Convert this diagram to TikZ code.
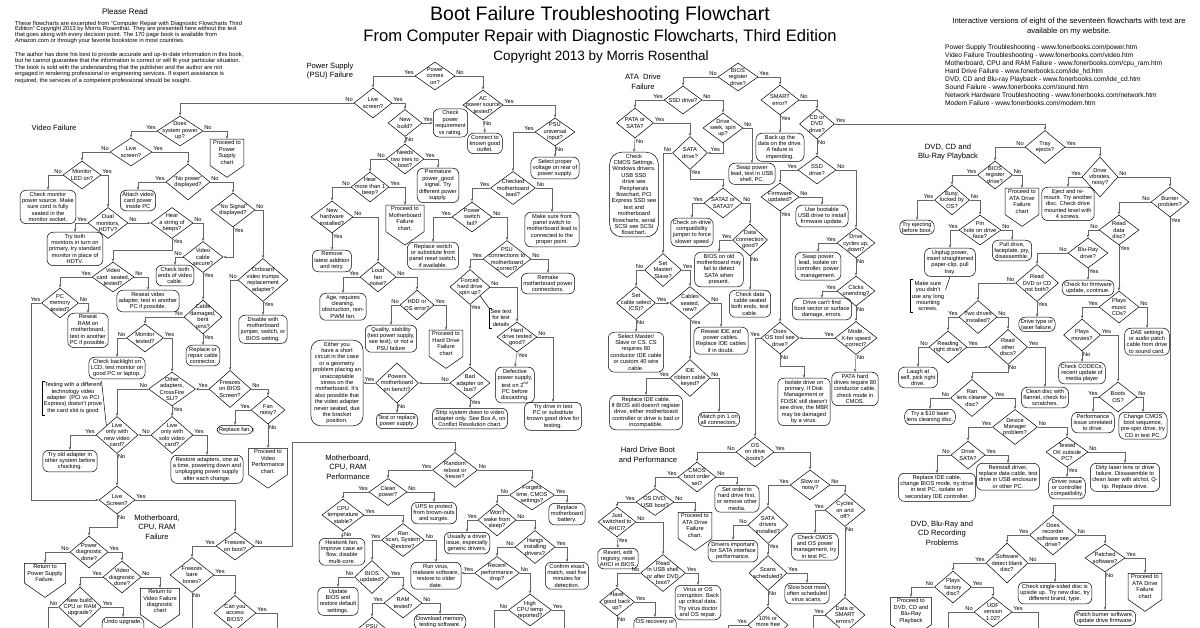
\documentclass[tikz,border=0pt]{standalone}
\usepackage{fontspec}
\setmainfont{Liberation Sans}
\usetikzlibrary{shapes.geometric,shapes.symbols,arrows.meta}

\begin{document}
\begin{tikzpicture}[x=1pt, y=-1pt,
        every node/.style={font=\fontsize{5.7}{6.4}\selectfont, align=center, inner sep=1.2pt},
        dtxt/.style={inner sep=0pt, font=\fontsize{5.7}{6.4}\selectfont, align=center},
        dec/.style={diamond, draw, line width=0.5pt, inner sep=0pt, minimum width=40pt, minimum height=31pt, label={[dtxt]center:{#1}}},
        res/.style={rectangle, rounded corners=6pt, draw, line width=0.5pt, inner xsep=2pt, inner ysep=1.8pt, anchor=north},
        offp/.style={signal, signal to=south, signal pointer angle=110, draw, line width=0.5pt, inner xsep=3pt, inner ysep=1.5pt, anchor=north},
        con/.style={draw=black!60, line width=0.5pt},
        arr/.style={con, -{Stealth[length=3.4pt, width=2.6pt]}},
        yl/.style={anchor=south east, inner sep=0.8pt},
        yr/.style={anchor=south west, inner sep=0.8pt},
        yd/.style={anchor=north west, inner sep=0.8pt},
        sect/.style={font=\fontsize{7.6}{9.5}\selectfont},
        brk/.style={line width=0.5pt}
    ]
    \useasboundingbox (0,0) rectangle (1200,628);
    \fill[white] (0,0) rectangle (1200,628);
    \clip (0,0) rectangle (1200,628);

    % header
    \node[font=\fontsize{8}{9}\selectfont] (pread) at (125,12) {Please Read};
    \node[anchor=north west, align=left, inner sep=0pt, font=\fontsize{5.8}{5.6}\selectfont] (intro) at (15,21) {These flowcharts are excerpted from “Computer Repair with Diagnostic Flowcharts Third\\Edition” Copyright 2013 by Morris Rosenthal. They are presented here without the text\\that goes along with every decision point. The 170 page book is available from\\Amazon.com or through your favorite bookstore in most countries.};
    \node[anchor=north west, align=left, inner sep=0pt, font=\fontsize{5.8}{5.4}\selectfont] (disclaim) at (15,52) {The author has done his best to provide accurate and up-to-date information in this book,\\but he cannot guarantee that the information is correct or will fit your particular situation.\\The book is sold with the understanding that the publisher and the author are not\\engaged in rendering professional or engineering services. If expert assistance is\\required, the services of a competent professional should be sought.};
    \node[font=\fontsize{19.5}{22}\selectfont] (title) at (600,15) {Boot Failure Troubleshooting Flowchart};
    \node[font=\fontsize{16.6}{18}\selectfont] (subtitle) at (600,37) {From Computer Repair with Diagnostic Flowcharts, Third Edition};
    \node[font=\fontsize{13.5}{15}\selectfont] (copyr) at (601,57) {Copyright 2013 by Morris Rosenthal};
    \node[font=\fontsize{7.7}{10}\selectfont] (online) at (1069,27) {Interactive versions of eight of the seventeen flowcharts with text are\\available on my website.};
    \node[anchor=north west, align=left, inner sep=0pt, font=\fontsize{6.65}{8}\selectfont] (links) at (945,44) {Power Supply Troubleshooting - www.fonerbooks.com/power.htm\\Video Failure Troubleshooting - www.fonerbooks.com/video.htm\\Motherboard, CPU and RAM Failure - www.fonerbooks.com/cpu\_ram.htm\\Hard Drive Failure - www.fonerbooks.com/ide\_hd.htm\\DVD, CD and Blu-ray Playback - www.fonerbooks.com/ide\_cd.htm\\Sound Failure - www.fonerbooks.com/sound.htm\\Network Hardware Troubleshooting - www.fonerbooks.com/network.htm\\Modem Failure - www.fonerbooks.com/modem.htm};

    \node[sect] (vfTitle) at (54,128) {Video Failure};
    \node[sect] (psuTitle) at (330,71) {Power Supply\\(PSU) Failure};
    \node[sect] (ataTitle) at (643,82) {ATA\ \ Drive\\Failure};
    \node[sect] (dvdTitle) at (948,152) {DVD, CD and\\Blu-Ray Playback};
    \node[sect] (mbTitle) at (157,527) {Motherboard,\\CPU, RAM\\Failure};
    \node[sect] (perfTitle) at (348,467) {Motherboard,\\CPU, RAM\\Performance};
    \node[sect] (hdTitle) at (648,455) {Hard Drive Boot\\and Performance};
    \node[sect] (recTitle) at (942,533) {DVD, Blu-Ray and\\CD Recording\\Problems};

    % video failure
    \node[dec={Does\\system power\\up?}, minimum width=46pt, minimum height=30pt] (sysPow) at (180,131) {};
    \node[offp] (vfPsu) at (227,139) {Proceed to\\Power\\Supply\\chart};
    \node[dec={Live\\screen?}, minimum width=42pt, minimum height=28pt] (vLive) at (131,152) {};
    \node[dec={Monitor\\LED on?}, minimum width=38pt, minimum height=28pt] (monLed) at (82,175) {};
    \node[res] (chkMon) at (48,190) {Check monitor\\power source. Make\\sure cord is fully\\seated in the\\monitor socket.};
    \node[dec={“No power”\\displayed?}, minimum width=44pt, minimum height=36pt] (noPower) at (188,182) {};
    \node[res] (attach) at (138,190) {Attach video\\card power\\inside PC};
    \node[dec={“No Signal”\\displayed?}, minimum width=44pt, minimum height=34pt] (noSignal) at (233,210) {};
    \node[dec={Dual\\monitors,\\HDTV?}] (dual) at (108,223) {};
    \node[dec={Hear\\a string of\\beeps?}, minimum width=42pt] (beeps) at (172,223) {};
    \node[res] (tryBoth) at (75,232) {Try both\\monitors in turn on\\primary, try standard\\monitor in place of\\HDTV.};
    \node[dec={Video\\cable\\secure?}] (vCable) at (203,257) {};
    \node[res] (chkEnds) at (175,265) {Check both\\ends of video\\cable.};
    \node[dec={Onboard\\video trumps\\replacement\\adapter?}, minimum width=50pt, minimum height=43pt] (onboard) at (263,280) {};
    \node[dec={Video\\card\ \ seated,\\tested?}, minimum width=42pt, minimum height=30pt] (cardSeat) at (113,277) {};
    \node[dec={PC\\memory\\tested?}, minimum width=37pt, minimum height=30pt] (pcMem) at (60,303) {};
    \node[res] (reseatVid) at (148,290) {Reseat video\\adapter, test in another\\PC if possible.};
    \node[dec={Cable\\damaged,\\bent\\pins?}, minimum width=38pt, minimum height=34pt] (cableDmg) at (203,317) {};
    \node[res] (disable) at (263,315) {Disable with\\motherboard\\jumper, switch, or\\BIOS setting.};
    \node[res] (reseatRam) at (88,313) {Reseat\\RAM on\\motherboard,\\test in another\\PC if possible.};
    \node[dec={Monitor\\tested?}, minimum width=37pt, minimum height=28pt] (monTest) at (145,338) {};
    \node[res] (replCable) at (203,345) {Replace or\\repair cable\\connector.};
    \node[res] (backlight) at (117,357) {Check backlight on\\LCD, test monitor on\\good PC or laptop.};
    \node[dec={Other\\adapters,\\CrossFire\\SLI?}, minimum width=47pt, minimum height=34pt] (otherAd) at (172,389) {};
    \node[dec={Freezes\\on BIOS\\Screen?}, minimum width=42pt, minimum height=37pt] (biosFrz) at (230,389) {};
    \node[dec={Fan\\noisy?}, minimum width=34pt, minimum height=28pt] (fanNoisy) at (268,410) {};
    \node[res] (replFan) at (235,425) {Replace fan.};
    \node[offp] (vPerf) at (268,448) {Proceed to\\Video\\Performance\\chart.};
    \node (note1) at (73,398) {Testing with a different\\technology video\\adapter\ \ (PCI vs PCI\\Express) doesn't prove\\the card slot is good};
    \node[dec={Live\\only with\\new video\\card?}, minimum width=42pt, minimum height=37pt] (liveNew) at (117,435) {};
    \node[dec={Live\\only with\\solo video\\card?}, minimum width=42pt, minimum height=37pt] (liveSolo) at (172,435) {};
    \node[res] (tryOld) at (70,450) {Try old adapter in\\other system before\\chucking.};
    \node[res] (restore) at (207,455) {Restore adapters, one at\\a time, powering down and\\unplugging power supply\\after each change.};
    \draw[brk] ([xshift=3pt]note1.north west) -| (note1.south west) -- ++(3,0);
    \draw[brk] ([xshift=-2pt]note1.north east) -- (liveNew.north west);

    % motherboard, cpu, ram failure
    \node[dec={Live\\Screen?}, minimum width=36pt, minimum height=28pt] (mbLive) at (117,500) {};
    \node[dec={Freezes\\on boot?}, minimum width=38pt, minimum height=28pt] (frzBoot) at (235,546) {};
    \node[dec={Power\\diagnostic\\done?}, minimum width=38pt, minimum height=32pt] (pwrDiag) at (89,552) {};
    \node[offp] (retPsu) at (45,563) {Return to\\Power Supply\\Failure.};
    \node[dec={Video\\diagnostic\\done?}, minimum width=38pt, minimum height=32pt] (vidDiag) at (122,577) {};
    \node[offp] (retVid) at (160,588) {Return to\\Video Failure\\diagnostic\\chart};
    \node[dec={New build,\\CPU or RAM\\upgrade?}, minimum width=43pt, minimum height=40pt] (newBuild) at (80,607) {};
    \node[res] (undo) at (123,617) {Undo upgrade,\\\phantom{X}\\\phantom{X}};
    \node[dec={Freezes\\bare\\bones?}, minimum width=44pt, minimum height=35pt] (frzBare) at (192,575) {};
    \node[dec={Can you\\access\\BIOS?}, minimum width=42pt, minimum height=35pt] (accBios) at (235,613) {};

    % power supply
    \node[dec={Power\\comes\\on?}, minimum width=40pt, minimum height=28pt] (pwrOn) at (435,76) {};
    \node[dec={Live\\screen?}, minimum width=38pt, minimum height=30pt] (psuLive) at (373,103) {};
    \node[dec={AC\\power source\\tested?}, minimum width=40pt, minimum height=30pt] (acSrc) at (483,105) {};
    \node[dec={New\\build?}, minimum width=34pt, minimum height=27pt] (newBld) at (405,123) {};
    \node[res, anchor=west] (chkReq) at (433,123) {Check\\power\\requirement\\vs rating.};
    \node[res] (connect) at (485,133) {Connect to\\known good\\outlet.};
    \node[dec={PSU\\universal\\input?}, minimum width=40pt, minimum height=28pt] (psuUni) at (555,132) {};
    \node[dec={Needs\\two tries to\\boot?}, minimum width=38pt, minimum height=30pt] (twoTries) at (405,159) {};
    \node[res] (selVolt) at (555,157) {Select proper\\voltage on rear of\\power supply.};
    \node[res] (premat) at (438,168) {Premature\\power\_good\\signal. Try\\different power\\supply.};
    \node[dec={Hear\\more than 1\\beep?}, minimum width=38pt, minimum height=30pt] (moreBeep) at (370,187) {};
    \node[dec={Checked\\motherboard\\lead?}, minimum width=45pt, minimum height=33pt] (chkLead) at (513,188) {};
    \node[offp] (mbOff) at (405,205) {Proceed to\\Motherboard\\Failure\\chart.};
    \node[dec={New\\hardware\\installed?}, minimum width=42pt, minimum height=32pt] (newHw) at (332,217) {};
    \node[dec={Power\\switch\\fail?}, minimum width=40pt, minimum height=30pt] (swFail) at (472,217) {};
    \node[res] (frontSw) at (552,212) {Make sure front\\panel switch to\\motherboard lead is\\connected to the\\proper point.};
    \node[res] (replSw) at (433,242) {Replace switch\\or substitute front\\panel reset switch,\\if available.};
    \node[res] (remove) at (332,250) {Remove\\latest addition\\and retry.};
    \node[dec={PSU\\connections to\\motherboard\\correct?}, minimum width=48pt, minimum height=37pt] (psuConn) at (507,259) {};
    \node[dec={Loud\\fan\\noise?}, minimum width=36pt, minimum height=30pt] (loudFan) at (378,277) {};
    \node[res] (remake) at (548,273) {Remake\\motherboard power\\connections.};
    \node[dec={Forced\\hard drive\\spin up?}, minimum width=40pt, minimum height=35pt] (forced) at (470,287) {};
    \node[res] (ageFan) at (343,293) {Age, requires\\cleaning,\\obstruction, non-\\PWM fan.};
    \node[dec={HDD or\\OS error?}, minimum width=34pt, minimum height=30pt] (hddOs) at (417,305) {};
    \node (seeText) at (501,318) {See text\\for test\\details};
    \node[res] (quality) at (391,325) {Quality, stability\\(test power supply,\\see text), or not a\\PSU failure};
    \node[offp] (hdOff) at (446,330) {Proceed to\\Hard Drive\\Failure\\chart};
    \node[dec={Hard\\drive tested\\good?}, minimum width=40pt, minimum height=30pt] (hdTested) at (517,337) {};
    \node[res, anchor=center, rounded corners=10pt] (either) at (337,383) {Either you\\have a short\\circuit in the case\\or a geometry\\problem placing an\\unacceptable\\stress on the\\motherboard. It's\\also possible that\\the video adapter\\never seated, due\\the bracket\\position.};
    \node[dec={Powers\\motherboard\\on bench?}, minimum width=43pt, minimum height=40pt] (powBench) at (397,383) {};
    \node[dec={Bad\\adapter on\\bus?}, minimum width=40pt, minimum height=32pt] (badAd) at (470,383) {};
    \node[res] (defect) at (515,367) {Defective\\power supply,\\test on 2\textsuperscript{nd}\\PC before\\discarding.};
    \node[res] (tryDrive) at (553,402) {Try drive in test\\PC or substitute\\known good drive for\\testing.};
    \node[res] (testRepl) at (397,413) {Test or replace\\power supply.};
    \node[res] (strip) at (470,408) {Strip system down to video\\adapter only. See Box A, on\\Conflict Resolution chart.};
    \draw[brk] ([xshift=3pt]seeText.north west) -| (seeText.south west) -- ++(3,0);
    \draw[brk] (seeText.north west) -- (forced.south east);

    % motherboard, cpu, ram performance
    \node[dec={Random\\reboot or\\freeze?}, minimum width=45pt, minimum height=35pt] (random) at (455,470) {};
    \node[dec={Clean\\power?}, minimum width=38pt, minimum height=27pt] (cleanPwr) at (388,492) {};
    \node[dec={Forgets\\time, CMOS\\settings?}, minimum width=45pt, minimum height=30pt] (forgets) at (532,495) {};
    \node[res] (ups) at (434,502) {UPS to protect\\from brown-outs\\and surges.};
    \node[res] (battery) at (567,503) {Replace\\motherboard\\battery.};
    \node[dec={CPU\\temperature\\stable?}, minimum width=42pt, minimum height=32pt] (cpuTemp) at (343,515) {};
    \node[dec={Won't\\wake from\\sleep?}, minimum width=38pt, minimum height=32pt] (wake) at (497,520) {};
    \node[res] (generic) at (467,532) {Usually a driver\\issue, especially\\generic drivers.};
    \node[res] (heatsink) at (342,538) {Heatsink fan,\\improve case air\\flow, disable\\multi-core.};
    \node[dec={Ran\\scan, System\\Restore?}, minimum width=43pt, minimum height=33pt] (ranScan) at (403,540) {};
    \node[dec={Hangs\\installing\\drivers?}, minimum width=40pt, minimum height=33pt] (hangs) at (535,547) {};
    \node[res] (runVirus) at (436,562) {Run virus,\\malware software,\\restore to older\\date.};
    \node[res] (confirm) at (567,562) {Confirm exact\\match, wait five\\minutes for\\detection.};
    \node[dec={Recent\\performance\\drop?}, minimum width=45pt, minimum height=33pt] (recPerf) at (497,573) {};
    \node[dec={BIOS\\updated?}, minimum width=35pt, minimum height=33pt] (biosUpd) at (372,577) {};
    \node[res] (updBios) at (338,587) {Update\\BIOS and\\restore default\\settings.};
    \node[dec={RAM\\tested?}, minimum width=38pt, minimum height=30pt] (ramTest) at (403,603) {};
    \node[res] (download) at (440,614) {Download memory\\testing software.};
    \node[dec={High\\CPU temp\\reported?}, minimum width=43pt, minimum height=32pt] (highCpu) at (530,610) {};
    \node[dec={PSU\\\phantom{X}\\\phantom{X}}, minimum width=38pt, minimum height=32pt] (psuDia) at (372,633) {};

    % ata drive failure
    \node[dec={BIOS\\register\\drive?}, minimum width=40pt, minimum height=28pt] (biosReg) at (738,77) {};
    \node[dec={SSD drive?}, minimum width=38pt, minimum height=28pt] (ssd1) at (683,100) {};
    \node[dec={SMART\\error?}, minimum width=38pt, minimum height=30pt] (smart) at (780,100) {};
    \node[dec={PATA or\\SATA?}, minimum width=37pt, minimum height=30pt] (pata) at (635,123) {};
    \node[dec={Drive\\seek, spin\\up?}, minimum width=40pt, minimum height=30pt] (seek) at (723,128) {};
    \node[dec={CD or\\DVD\\drive?}, minimum width=35pt, minimum height=30pt] (cdDvd) at (817,124) {};
    \node[res] (backup) at (780,133) {Back up the\\data on the drive.\\A failure is\\impending.};
    \node[res, rounded corners=12pt] (cmosSet) at (634,152) {Check\\CMOS Settings,\\Windows drivers.\\USB SSD\\drive see\\Peripherals\\flowchart, PCI\\Express SSD see\\text and\\motherboard\\flowcharts, serial\\SCSI see SCSI\\flowchart.};
    \node[dec={SATA\\drive?}, minimum width=35pt, minimum height=33pt] (sataDrv) at (690,153) {};
    \node[dec={SSD\\drive?}, minimum width=38pt, minimum height=28pt] (ssd2) at (817,170) {};
    \node[res] (swapUsb) at (752,163) {Swap power\\lead, test in USB\\shell, PC.};
    \node[dec={Firmware\\updated?}, minimum width=38pt, minimum height=28pt] (firmware) at (780,197) {};
    \node[dec={SATA2 or\\SATA3?}, minimum width=38pt, minimum height=30pt] (sata23) at (723,203) {};
    \node[res] (bootUsb) at (822,205) {Use bootable\\USB drive to install\\firmware update.};
    \node[res] (jumper) at (692,218) {Check on-drive\\compatibility\\jumper to force\\slower speed};
    \node[dec={Data\\connection\\good?}, minimum width=35pt, minimum height=32pt] (dataConn) at (750,240) {};
    \node[dec={Drive\\cycles up,\\down?}, minimum width=38pt, minimum height=30pt] (cycles) at (856,243) {};
    \node[res] (swapPwr) at (818,252) {Swap power\\lead, isolate on\\controller, power\\management.};
    \node[res] (oldBios) at (719,252) {BIOS on old\\motherboard may\\fail to detect\\SATA when\\present.};
    \node[dec={Set\\Master/\\Slave?}, minimum width=37pt, minimum height=33pt] (masterSl) at (663,270) {};
    \node[res] (dataCab) at (750,290) {Check data\\cable seated\\both ends, test\\cable.};
    \node[dec={Clicks\\unending?}, minimum width=38pt, minimum height=30pt] (clicks) at (856,291) {};
    \node[res] (bootSec) at (822,298) {Drive can't find\\boot sector or surface\\damage, errors.};
    \node[dec={Set\\cable select\\(CS)?}, minimum width=39pt, minimum height=33pt] (csSel) at (636,303) {};
    \node[dec={Cables\\seated,\\new?}, minimum width=40pt, minimum height=33pt] (cabSeat) at (690,303) {};
    \node[res] (reseatIde) at (721,327) {Reseat IDE and\\power cables.\\Replace IDE cables\\if in doubt.};
    \node[res] (selMs) at (636,332) {Select Master/\\Slave or CS. CS\\requires 80\\conductor IDE cable\\or custom 40 wire\\cable.};
    \node[dec={Does\\OS tool see\\drive?}, minimum width=38pt, minimum height=32pt] (osTool) at (780,338) {};
    \node[dec={Mode,\\X-fer speed\\correct?}, minimum width=42pt, minimum height=33pt] (modeX) at (856,338) {};
    \node[res] (pataReq) at (855,372) {PATA hard\\drives require 80\\conductor cable,\\check mode in\\CMOS.};
    \node[dec={IDE\\ribbon cable\\keyed?}, minimum width=40pt, minimum height=37pt] (ideKey) at (690,378) {};
    \node[res] (isolate) at (804,378) {Isolate drive on\\primary. If Disk\\Management or\\FDISK still doesn't\\see drive, the MBR\\may be damaged\\by a virus.};
    \node[res] (replIde) at (646,395) {Replace IDE cable.\\If BIOS still doesn't register\\drive, either motherboard\\controller or drive is bad or\\incompatible.};
    \node[res] (matchPin) at (719,412) {Match pin 1 on\\all connectors.};

    % hard drive boot and performance
    \node[dec={OS\\on drive\\boots?}, minimum width=38pt, minimum height=30pt] (osBoots) at (755,452) {};
    \node[dec={CMOS\\boot order\\set?}, minimum width=38pt, minimum height=30pt] (cmosOrd) at (697,477) {};
    \node[dec={Slow or\\noisy?}, minimum width=40pt, minimum height=30pt] (slow) at (810,485) {};
    \node[res] (setOrd) at (737,485) {Set order to\\hard drive first,\\or remove other\\media.};
    \node[dec={OS DVD,\\USB boot?}, minimum width=38pt, minimum height=27pt] (osDvd) at (655,502) {};
    \node[dec={Cycles\\on and\\off?}, minimum width=40pt, minimum height=33pt] (cycOn) at (845,510) {};
    \node[dec={Just\\switched to\\AHCI?}, minimum width=38pt, minimum height=30pt] (ahci) at (617,522) {};
    \node[offp] (ataOff) at (695,512) {Proceed to\\ATA Drive\\Failure\\chart.};
    \node[dec={SATA\\drivers\\installed?}, minimum width=40pt, minimum height=37pt] (sataDrvI) at (768,525) {};
    \node[res] (chkCmos) at (815,533) {Check CMOS\\and OS power\\management, try\\in test PC.};
    \node[res] (drvImp) at (733,540) {Drivers important\\for SATA interface\\performance.};
    \node[res] (revert) at (618,548) {Revert, edit\\registry, reset\\AHCI in BIOS.};
    \node[dec={Read\\in USB shell\\or after DVD\\boot?}, minimum width=45pt, minimum height=37pt] (readUsb) at (663,573) {};
    \node[dec={Scans\\scheduled?}, minimum width=38pt, minimum height=35pt] (scans) at (768,573) {};
    \node[res] (slowBoot) at (807,583) {Slow boot most\\often scheduled\\virus scans.};
    \node[res] (virusOs) at (698,585) {Virus or OS\\corruption. Back\\up critical data.\\Try virus doctor\\and OS repair.};
    \node[dec={Have\\good back\\up?}, minimum width=35pt, minimum height=28pt] (goodBk) at (617,602) {};
    \node[dec={10\% or\\more free\\\phantom{X}}, minimum width=40pt, minimum height=36pt] (freeSp) at (768,625) {};
    \node[dec={Data or\\SMART\\errors?}, minimum width=40pt, minimum height=35pt] (dataSmart) at (845,615) {};
    \node[res] (osRec) at (655,617) {OS recovery or\\\phantom{X}\\\phantom{X}};

    % dvd, cd and blu-ray playback
    \node[dec={Tray\\ejects?}, minimum width=40pt, minimum height=33pt] (tray) at (1045,147) {};
    \node[dec={BIOS\\register\\drive?}, minimum width=35pt, minimum height=28pt] (dvdBios) at (995,175) {};
    \node[dec={Drive\\vibrates,\\noisy?}, minimum width=36pt, minimum height=40pt] (vibr) at (1100,177) {};
    \node[dec={Busy,\\locked by\\OS?}, minimum width=35pt, minimum height=30pt] (busy) at (952,200) {};
    \node[offp] (ataOff2) at (1022,188) {Proceed to\\ATA Drive\\Failure\\chart};
    \node[res] (eject) at (1068,187) {Eject and re-\\mount. Try another\\disc. Check drive\\mounted level with\\4 screws.};
    \node[dec={Burner\\problem?}, minimum width=38pt, minimum height=30pt] (burner) at (1170,202) {};
    \node[res] (tryEj) at (917,220) {Try ejecting\\before boot.};
    \node[dec={Pin\\hole on drive\\face?}, minimum width=42pt, minimum height=30pt] (pinHole) at (980,230) {};
    \node[dec={Read\\data\\disc?}, minimum width=40pt, minimum height=30pt] (readData) at (1119,230) {};
    \node[res] (pullDrv) at (1012,240) {Pull drive,\\faceplate, pry,\\disassemble.};
    \node[res] (unplug) at (950,248) {Unplug power,\\insert straightened\\paper-clip, pull\\tray.};
    \node[dec={Blu-Ray\\drive?}, minimum width=40pt, minimum height=30pt] (bluRay) at (1088,253) {};
    \node[res] (fwUpd) at (1088,280) {Check for firmware\\update, continue.};
    \node[dec={Read\\DVD or CD\\not both?}, minimum width=43pt, minimum height=37pt] (readDvd) at (1037,283) {};
    \node (screws) at (928,296) {Make sure\\you didn't\\use any long\\mounting\\screws.};
    \node[dec={Plays\\music\\CDs?}, minimum width=40pt, minimum height=32pt] (music) at (1119,307) {};
    \node[dec={Two drives\\installed?}, minimum width=38pt, minimum height=33pt] (twoDrv) at (978,317) {};
    \node[res] (drvType) at (1037,317) {Drive type or\\laser failure.};
    \node[res] (dae) at (1147,328) {DAE settings\\or audio patch\\cable from drive\\to sound card.};
    \node[dec={Plays\\movies?}, minimum width=37pt, minimum height=32pt] (movies) at (1082,335) {};
    \node[dec={Reading\\right drive?}, minimum width=38pt, minimum height=32pt] (rightDrv) at (948,347) {};
    \node[dec={Read\\other\\discs?}, minimum width=39pt, minimum height=35pt] (otherDisc) at (1008,347) {};
    \node[res] (codecs) at (1082,362) {Check CODECs,\\recent update of\\media player};
    \node[res] (laugh) at (918,367) {Laugh at\\self, pick right\\drive.};
    \node[res] (cleanDisc) at (1045,387) {Clean disc with\\flannel, check for\\scratches.};
    \node[dec={Ran\\lens cleaner\\disc?}, minimum width=43pt, minimum height=37pt] (lensCl) at (972,398) {};
    \node[dec={Boots\\OS?}, minimum width=38pt, minimum height=30pt] (bootsOs) at (1118,397) {};
    \node[res] (tryLens) at (930,409) {Try a \$10 laser\\lens cleaning disc.};
    \node[res] (perfIss) at (1093,412) {Performance\\issue unrelated\\to drive.};
    \node[res] (cmosSeq) at (1143,412) {Change CMOS\\boot sequence,\\pre-spin drive, try\\CD in test PC.};
    \node[dec={Device\\Manager\\problem?}, minimum width=45pt, minimum height=35pt] (devMgr) at (1015,427) {};
    \node[dec={Drive\\SATA?}, minimum width=34pt, minimum height=28pt] (drvSata) at (968,455) {};
    \node[dec={Tested\\OK outside\\PC?}, minimum width=42pt, minimum height=30pt] (testedOk) at (1067,452) {};
    \node[res] (reinst) at (1008,463) {Reinstall driver,\\replace data cable, test\\drive in USB enclosure\\or other PC.};
    \node[res] (dirty) at (1125,463) {Dirty laser lens or drive\\failure. Dissasemble to\\clean laser with alchol, Q-\\tip. Replace drive.};
    \node[res] (replIde2) at (937,473) {Replace IDE cable,\\change BIOS mode, try drive\\in test PC, isolate on\\secondary IDE controller.};
    \node[res] (drvIssue) at (1067,477) {Driver issue\\or controller\\compatibility.};
    \draw[brk] ([xshift=3pt]screws.north west) -| (screws.south west) -- ++(3,0);
    \draw[brk] ([yshift=6pt]screws.east) -- (unplug.south);

    % recording problems
    \node[dec={Does\\recorder\\software see\\drive?}, minimum width=47pt, minimum height=40pt] (recSw) at (1053,535) {};
    \node[dec={Patched\\software?}, minimum width=40pt, minimum height=28pt] (patched) at (1105,558) {};
    \node[dec={Software\\detect blank\\disc?}, minimum width=42pt, minimum height=40pt] (blank) at (1007,563) {};
    \node[offp] (ataOff3) at (1145,573) {Proceed to\\ATA Drive\\Failure\\chart};
    \node[res] (singleSd) at (1055,582) {Check single-sided disc is\\upside up. Try new disc, try\\different brand, type.};
    \node[dec={Plays\\factory\\disc?}, minimum width=37pt, minimum height=32pt] (factory) at (953,587) {};
    \node[offp] (dvdOff) at (911,597) {Proceed to\\DVD, CD and\\Blu-Ray\\Playback};
    \node[res] (patchBr) at (1105,610) {Patch burner software,\\update drive firmware.};
    \node[dec={UDF\\version\\1.02?}, minimum width=38pt, minimum height=30pt] (udf) at (993,612) {};

    % connectors: video failure
    \draw[arr] (psuLive.west) node[yl]{No} -| (sysPow.north);
    \draw[arr] (sysPow.west) node[yl]{Yes} -| (vLive.north);
    \draw[arr] (sysPow.east) node[yr]{No} -| (vfPsu.north);
    \draw[arr] (vLive.west) node[yl]{No} -| (monLed.north);
    \draw[arr] (vLive.east) node[yr]{Yes} -| (noPower.north);
    \draw[arr] (monLed.west) node[yl]{No} -| (chkMon.north);
    \draw[arr] (monLed.east) node[yr]{Yes} -| (dual.north);
    \draw[arr] (noPower.west) node[yl]{Yes} -| (attach.north);
    \draw[arr] (noPower.east) node[yr]{No} -| (noSignal.north);
    \draw[arr] (dual.west) node[yl]{Yes} -| (tryBoth.north);
    \draw[arr] (dual.east) node[yr]{No} -- (beeps.west);
    \draw[arr] (beeps.east) node[yr]{No} -| (vCable.north);
    \draw[arr] (noSignal.south) node[yd]{Yes} |- (vCable.east);
    \draw[arr] (noSignal.east) node[yr]{No} -| (onboard.north);
    \draw[arr] (beeps.south) node[yd]{Yes} -- ++(0,12) -| (cardSeat.north);
    \draw[arr] (vCable.west) node[yl]{No} -| (chkEnds.north);
    \draw[arr] (vCable.south) node[yd]{Yes} -- (cableDmg.north);
    \draw[arr] (cardSeat.west) node[yl]{Yes} -| (pcMem.north);
    \draw[arr] (cardSeat.east) node[yr]{No} -| (reseatVid.north);
    \draw[arr] (pcMem.west) node[yl]{Yes} -- ++(-10,0) |- (mbLive.west);
    \draw[arr] (pcMem.east) node[yr]{No} -| (reseatRam.north);
    \draw[arr] (cableDmg.west) node[yl]{No} -| (monTest.north);
    \draw[arr] (cableDmg.south) node[yd]{Yes} -- (replCable.north);
    \draw[arr] (onboard.south) node[yd]{Yes} -- (disable.north);
    \draw[arr] (onboard.west) node[yl]{No} -| (biosFrz.north);
    \draw[arr] (monTest.west) node[yl]{No} -| (backlight.north);
    \draw[arr] (monTest.east) node[yr]{Yes} -| (otherAd.north);
    \draw[arr] (biosFrz.west) node[yl]{Yes} -- (otherAd.east);
    \draw[arr] (biosFrz.east) node[yr]{No} -| (fanNoisy.north);
    \draw[arr] (fanNoisy.west) node[yl]{Yes} -| (replFan.north);
    \draw[arr] (fanNoisy.south) node[yd]{No} -- (vPerf.north);
    \draw[arr] (otherAd.west) node[yl]{No} -| (liveNew.north);
    \draw[arr] (otherAd.south) node[yd]{Yes} -- (liveSolo.north);
    \draw[arr] (liveSolo.west) node[yl]{No} -- (liveNew.east);
    \draw[arr] (liveSolo.east) node[yr]{Yes} -| (restore.north);
    \draw[arr] (liveNew.west) node[yl]{Yes} -| (tryOld.north);
    \draw[arr] (liveNew.south) node[yd]{No} -- (mbLive.north);

    % connectors: motherboard failure
    \draw[arr] (mbLive.east) node[yr]{Yes} -| (frzBoot.north);
    \draw[arr] (mbLive.south) node[yd]{No} -- ++(0,13) -| (pwrDiag.north);
    \draw[arr] (pwrDiag.west) node[yl]{No} -| (retPsu.north);
    \draw[arr] (pwrDiag.east) node[yr]{Yes} -| (vidDiag.north);
    \draw[arr] (vidDiag.east) node[yr]{No} -| (retVid.north);
    \draw[arr] (vidDiag.west) node[yl]{Yes} -| (newBuild.north);
    \draw[arr] (newBuild.east) node[yr]{Yes} -| (undo.north);
    \draw[con] (newBuild.west) node[yl]{No} -| ++(-10,30);
    \draw[arr] (frzBoot.west) node[yl]{Yes} -| (frzBare.north);
    \draw[arr] (frzBoot.east) node[yr]{No} -- ++(38,0) -- ++(0,-104) -| (random.north);
    \draw[arr] (frzBare.east) node[yr]{Yes} -| (accBios.north);
    \draw[con] (frzBare.south) node[yd]{No} -- ++(0,40);
    \draw[con] (accBios.east) node[yr]{Yes} -| ++(21,30);

    % connectors: power supply
    \draw[arr] (pwrOn.west) node[yl]{Yes} -| (psuLive.north);
    \draw[arr] (pwrOn.east) node[yr]{No} -| (acSrc.north);
    \draw[arr] (psuLive.east) node[yr]{Yes} -| (newBld.north);
    \draw[arr] (newBld.east) node[yr]{Yes} -- (chkReq.west);
    \draw[arr] (newBld.south) node[yd]{No} -- (twoTries.north);
    \draw[arr] (twoTries.west) node[yl]{No} -| (moreBeep.north);
    \draw[arr] (twoTries.east) node[yr]{Yes} -| (premat.north);
    \draw[arr] (moreBeep.west) node[yl]{No} -| (newHw.north);
    \draw[arr] (moreBeep.east) node[yr]{Yes} -| (mbOff.north);
    \draw[arr] (newHw.south) node[yd]{Yes} -- (remove.north);
    \draw[arr] (newHw.east) node[yr]{No} -| (loudFan.north);
    \draw[arr] (loudFan.west) node[yl]{Yes} -| (ageFan.north);
    \draw[arr] (loudFan.east) node[yr]{No} -| (hddOs.north);
    \draw[arr] (hddOs.west) node[yl]{No} -| (quality.north);
    \draw[arr] (hddOs.east) node[yr]{Yes} -| (hdOff.north);
    \draw[arr] (acSrc.south) node[yd]{No} -- (connect.north);
    \draw[arr] (acSrc.east) node[yr]{Yes} -| (psuUni.north);
    \draw[arr] (psuUni.south) node[yd]{No} -- (selVolt.north);
    \draw[arr] (psuUni.west) node[yl]{Yes} -| (chkLead.north);
    \draw[arr] (chkLead.west) node[yl]{Yes} -| (swFail.north);
    \draw[arr] (chkLead.east) node[yr]{No} -| (frontSw.north);
    \draw[arr] (swFail.west) node[yl]{Yes} -| (replSw.north);
    \draw[arr] (swFail.east) node[yr]{No} -| (psuConn.north);
    \draw[arr] (psuConn.west) node[yl]{Yes} -| (forced.north);
    \draw[arr] (psuConn.east) node[yr]{No} -| (remake.north);
    \draw[arr] (forced.south) node[yd]{Yes} -- (badAd.north);
    \draw[arr] (forced.east) node[yr]{No} -| (hdTested.north);
    \draw[arr] (hdTested.south) node[yd]{Yes} -- (defect.north);
    \draw[arr] (hdTested.east) node[yr]{No} -| (tryDrive.north);
    \draw[arr] (badAd.west) node[yl]{No} -- (powBench.east);
    \draw[arr] (badAd.south) node[yd]{Yes} -- (strip.north);
    \draw[arr] (powBench.west) node[yl]{Yes} -- (either.east);
    \draw[arr] (powBench.south) node[yd]{No} -- (testRepl.north);

    % connectors: performance
    \draw[arr] (random.west) node[yl]{Yes} -| (cleanPwr.north);
    \draw[arr] (random.east) node[yr]{No} -| (forgets.north);
    \draw[arr] (cleanPwr.west) node[yl]{Yes} -| (cpuTemp.north);
    \draw[arr] (cleanPwr.east) node[yr]{No} -| (ups.north);
    \draw[arr] (cpuTemp.south) node[yd]{No} -- (heatsink.north);
    \draw[arr] (cpuTemp.east) node[yr]{Yes} -| (ranScan.north);
    \draw[arr] (ranScan.west) node[yl]{Yes} -| (biosUpd.north);
    \draw[arr] (ranScan.east) node[yr]{No} -| (runVirus.north);
    \draw[arr] (biosUpd.west) node[yl]{No} -| (updBios.north);
    \draw[arr] (biosUpd.east) node[yr]{Yes} -| (ramTest.north);
    \draw[arr] (ramTest.west) node[yl]{Yes} -| (psuDia.north);
    \draw[arr] (ramTest.east) node[yr]{No} -| (download.north);
    \draw[arr] (forgets.east) node[yr]{Yes} -| (battery.north);
    \draw[arr] (forgets.west) node[yl]{No} -| (wake.north);
    \draw[arr] (wake.west) node[yl]{Yes} -| (generic.north);
    \draw[arr] (wake.east) node[yr]{No} -| (hangs.north);
    \draw[arr] (hangs.east) node[yr]{Yes} -| (confirm.north);
    \draw[arr] (hangs.west) node[yl]{No} -| (recPerf.north);
    \draw[arr] (recPerf.west) node[yl]{Yes} -- (recPerf.west -| runVirus.east);
    \draw[arr] (recPerf.east) node[yr]{No} -| (highCpu.north);
    \draw[con] (highCpu.west) node[yl]{No} -| ++(-14,30);
    \draw[con] (highCpu.east) node[yr]{Yes} -| ++(12,30);

    % connectors: ata drive failure
    \draw[arr] (biosReg.west) node[yl]{No} -| (ssd1.north);
    \draw[arr] (biosReg.east) node[yr]{Yes} -| (smart.north);
    \draw[arr] (ssd1.west) node[yl]{Yes} -| (pata.north);
    \draw[arr] (ssd1.east) node[yr]{No} -| (seek.north);
    \draw[arr] (pata.south) node[yd]{No} -- (cmosSet.north);
    \draw[arr] (pata.east) node[yr]{Yes} -| (sataDrv.north);
    \draw[arr] (seek.east) node[yr]{No} -| (swapUsb.north);
    \draw[arr] (seek.south) |- node[above, pos=0.75]{Yes} (sataDrv.east);
    \draw[arr] (sataDrv.west) node[yl]{No} -| (masterSl.north);
    \draw[arr] (sataDrv.south) node[yd]{Yes} -- ++(0,10) -| (sata23.north);
    \draw[arr] (sata23.west) node[yl]{Yes} -| (jumper.north);
    \draw[arr] (sata23.east) node[yr]{No} -| (dataConn.north);
    \draw[arr] (dataConn.west) node[yl]{Yes} -| (oldBios.north);
    \draw[arr] (dataConn.south) node[yd]{No} -- (dataCab.north);
    \draw[arr] (masterSl.west) node[yl]{No} -| (csSel.north);
    \draw[arr] (masterSl.east) node[yr]{Yes} -| (cabSeat.north);
    \draw[arr] (csSel.east) node[yr]{Yes} -- (cabSeat.west);
    \draw[arr] (csSel.south) node[yd]{No} -- (selMs.north);
    \draw[arr] (cabSeat.east) node[yr]{No} -| (reseatIde.north);
    \draw[arr] (cabSeat.south) node[yd]{Yes} -- (ideKey.north);
    \draw[arr] (ideKey.west) node[yl]{Yes} -| (replIde.north);
    \draw[arr] (ideKey.east) node[yr]{No} -| (matchPin.north);
    \draw[arr] (smart.south) node[yd]{Yes} -- (backup.north);
    \draw[arr] (smart.east) node[yr]{No} -| (cdDvd.north);
    \draw[arr] (cdDvd.south) node[yd]{No} -- (ssd2.north);
    \draw[arr] (cdDvd.east) node[yr]{Yes} -| (tray.north);
    \draw[arr] (ssd2.west) node[yl]{Yes} -| (firmware.north);
    \draw[arr] (ssd2.east) node[yr]{No} -| (cycles.north);
    \draw[arr] (firmware.east) node[yr]{No} -| (bootUsb.north);
    \draw[arr] (firmware.south) node[yd]{Yes} -- (osTool.north);
    \draw[arr] (cycles.west) node[yl]{Yes} -| (swapPwr.north);
    \draw[arr] (cycles.south) node[yd]{No} -- (clicks.north);
    \draw[arr] (clicks.west) node[yl]{Yes} -| (bootSec.north);
    \draw[arr] (clicks.south) node[yd]{No} -- (modeX.north);
    \draw[arr] (modeX.west) node[yl]{Yes} -- (osTool.east);
    \draw[arr] (modeX.south) node[yd]{No} -- (pataReq.north);
    \draw[arr] (osTool.west) node[yl]{Yes} -| (osBoots.north);
    \draw[arr] (osTool.south) node[yd]{No} -- ++(0,12) -| (isolate.north);

    % connectors: hard drive boot
    \draw[arr] (osBoots.west) node[yl]{No} -| (cmosOrd.north);
    \draw[arr] (osBoots.east) node[yr]{Yes} -| (slow.north);
    \draw[arr] (cmosOrd.west) node[yl]{Yes} -| (osDvd.north);
    \draw[arr] (cmosOrd.east) node[yr]{No} -| (setOrd.north);
    \draw[arr] (osDvd.west) node[yl]{Yes} -| (ahci.north);
    \draw[arr] (osDvd.east) node[yr]{No} -| (ataOff.north);
    \draw[arr] (ahci.south) node[yd]{Yes} -- (revert.north);
    \draw[arr] (ahci.east) node[yr]{No} -| (readUsb.north);
    \draw[arr] (readUsb.west) node[yl]{No} -| (goodBk.north);
    \draw[arr] (readUsb.east) node[yr]{Yes} -| (virusOs.north);
    \draw[arr] (goodBk.east) node[yr]{Yes} -| (osRec.north);
    \draw[con] (goodBk.south) node[yd]{No} -- ++(0,20);
    \draw[arr] (slow.west) node[yl]{Yes} -| (sataDrvI.north);
    \draw[arr] (slow.east) node[yr]{No} -| (cycOn.north);
    \draw[arr] (sataDrvI.west) node[yl]{No} -| (drvImp.north);
    \draw[arr] (sataDrvI.south) node[yd]{Yes} -- (scans.north);
    \draw[arr] (scans.east) node[yr]{Yes} -| (slowBoot.north);
    \draw[arr] (scans.south) node[yd]{No} -- (freeSp.north);
    \draw[con] (freeSp.west) node[yl]{Yes} -| ++(-20,20);
    \draw[arr] (cycOn.west) node[yl]{Yes} -| (chkCmos.north);
    \draw[arr] (cycOn.south) node[yd]{No} -- (dataSmart.north);
    \draw[con] (dataSmart.west) node[yl]{Yes} -| ++(-12,20);

    % connectors: playback
    \draw[arr] (tray.west) node[yl]{No} -| (dvdBios.north);
    \draw[arr] (tray.east) node[yr]{Yes} -| (vibr.north);
    \draw[arr] (dvdBios.west) node[yl]{Yes} -| (busy.north);
    \draw[arr] (dvdBios.east) node[yr]{No} -| (ataOff2.north);
    \draw[arr] (busy.west) node[yl]{Yes} -| (tryEj.north);
    \draw[arr] (busy.east) node[yr]{No} -| (pinHole.north);
    \draw[arr] (pinHole.west) node[yl]{Yes} -| (unplug.north);
    \draw[arr] (pinHole.east) node[yr]{No} -| (pullDrv.north);
    \draw[arr] (vibr.west) node[yl]{Yes} -| (eject.north);
    \draw[arr] (vibr.east) node[yr]{No} -| (burner.north);
    \draw[arr] (burner.west) node[yl]{No} -| (readData.north);
    \draw[arr] (burner.south) node[yd]{Yes} -- ++(0,288) -| (recSw.north);
    \draw[arr] (readData.west) node[yl]{No} -| (bluRay.north);
    \draw[arr] (readData.south) node[yd]{Yes} -- (music.north);
    \draw[arr] (bluRay.west) node[yl]{No} -| (readDvd.north);
    \draw[arr] (bluRay.south) node[yd]{Yes} -- (fwUpd.north);
    \draw[arr] (readDvd.west) node[yl]{No} -| (twoDrv.north);
    \draw[arr] (readDvd.south) node[yd]{Yes} -- (drvType.north);
    \draw[arr] (twoDrv.west) node[yl]{Yes} -| (rightDrv.north);
    \draw[arr] (twoDrv.east) node[yr]{No} -| (otherDisc.north);
    \draw[arr] (rightDrv.west) node[yl]{No} -| (laugh.north);
    \draw[arr] (rightDrv.east) node[yr]{Yes} -- (otherDisc.west);
    \draw[arr] (otherDisc.east) node[yr]{Yes} -| (cleanDisc.north);
    \draw[arr] (otherDisc.south) node[yd]{No} -- ++(0,8) -| (lensCl.north);
    \draw[arr] (lensCl.west) node[yl]{No} -| (tryLens.north);
    \draw[arr] (lensCl.east) node[yr]{Yes} -| (devMgr.north);
    \draw[arr] (devMgr.west) node[yl]{Yes} -| (drvSata.north);
    \draw[arr] (devMgr.east) node[yr]{No} -| (testedOk.north);
    \draw[arr] (drvSata.west) node[yl]{No} -| (replIde2.north);
    \draw[arr] (drvSata.east) node[yr]{Yes} -| (reinst.north);
    \draw[arr] (testedOk.south) node[yd]{Yes} -- (drvIssue.north);
    \draw[arr] (testedOk.east) node[yr]{No} -| (dirty.north);
    \draw[arr] (music.west) node[yl]{Yes} -| (movies.north);
    \draw[arr] (music.east) node[yr]{No} -| (dae.north);
    \draw[arr] (movies.south) node[yd]{No} -- (codecs.north);
    \draw[arr] (movies.east) node[yr]{Yes} -| (bootsOs.north);
    \draw[arr] (bootsOs.west) node[yl]{Yes} -| (perfIss.north);
    \draw[arr] (bootsOs.east) node[yr]{No} -| (cmosSeq.north);

    % connectors: recording
    \draw[arr] (recSw.west) node[yl]{Yes} -| (blank.north);
    \draw[arr] (recSw.east) node[yr]{No} -| (patched.north);
    \draw[arr] (blank.west) node[yl]{Yes} -| (factory.north);
    \draw[arr] (blank.east) node[yr]{No} -| (singleSd.north);
    \draw[arr] (patched.east) node[yr]{Yes} -| (ataOff3.north);
    \draw[arr] (patched.south) node[yd]{No} -- (patchBr.north);
    \draw[arr] (factory.west) node[yl]{No} -| (dvdOff.north);
    \draw[arr] (factory.east) node[yr]{Yes} -| (udf.north);
    \draw[con] (udf.west) node[yl]{No} -| ++(-26,20);
    \draw[con] (udf.east) node[yr]{Yes} -| ++(26,20);
\end{tikzpicture}
\end{document}
